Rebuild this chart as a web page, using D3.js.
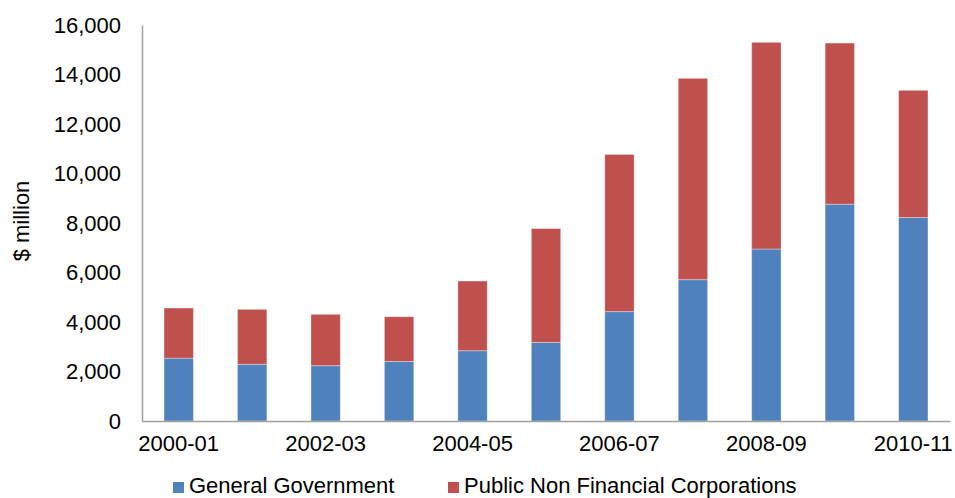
<!DOCTYPE html>
<html>
<head>
<meta charset="utf-8">
<script src="https://cdn.jsdelivr.net/npm/d3@7"></script>
<style>
  body { margin: 0; background: #fff; }
  svg { display: block; font-family: "Liberation Sans", Arial, sans-serif; }
</style>
</head>
<body>
<svg id="chart" width="955" height="498"></svg>
<script>
const categories = ["2000-01","2001-02","2002-03","2003-04","2004-05","2005-06","2006-07","2007-08","2008-09","2009-10","2010-11"];
const generalGovernment = [2540, 2290, 2235, 2405, 2840, 3175, 4420, 5710, 6950, 8760, 8220];
const publicNonFinancial = [2025, 2220, 2075, 1810, 2815, 4600, 6350, 8135, 8350, 6510, 5140];
const yTicks = [0, 2000, 4000, 6000, 8000, 10000, 12000, 14000, 16000];
const xTickLabels = ["2000-01","2002-03","2004-05","2006-07","2008-09","2010-11"];
const seriesNames = ["General Government", "Public Non Financial Corporations"];
const colors = ["#4F81BD", "#C0504D"];

const svg = d3.select("#chart");
const margin = { left: 142, right: 5, top: 25, bottom: 77 };
const W = 955, H = 498;
const x = d3.scaleBand().domain(categories).range([margin.left, W - margin.right]).paddingInner(0.6).paddingOuter(0.3);
const y = d3.scaleLinear().domain([0, 16000]).range([H - margin.bottom, margin.top]);

const rows = categories.map((c, i) => ({ cat: c, gg: generalGovernment[i], pnfc: publicNonFinancial[i] }));
const stack = d3.stack().keys(["gg", "pnfc"])(rows);

svg.append("g").selectAll("g").data(stack).join("g")
  .attr("fill", (d, i) => colors[i])
  .selectAll("rect").data(d => d).join("rect")
  .attr("x", d => x(d.data.cat))
  .attr("width", x.bandwidth())
  .attr("y", d => y(d[1]))
  .attr("height", d => y(d[0]) - y(d[1]))
  .attr("stroke", "rgba(255,255,255,0.35)")
  .attr("stroke-width", 1);

// y axis
const yAxis = d3.axisLeft(y).tickValues(yTicks).tickSize(0).tickPadding(21).tickFormat(d3.format(","));
const gy = svg.append("g").attr("transform", `translate(${margin.left},0)`).call(yAxis);
gy.select(".domain").attr("stroke", "#A0A0A0").attr("stroke-width", 1.5);
gy.selectAll("text").attr("font-size", 22).attr("fill", "#000").attr("font-family", "Liberation Sans, Arial, sans-serif");

// x axis
const xAxis = d3.axisBottom(x).tickValues(xTickLabels).tickSize(0).tickPadding(14);
const gx = svg.append("g").attr("transform", `translate(0,${H - margin.bottom})`).call(xAxis);
gx.select(".domain").attr("stroke", "#A0A0A0").attr("stroke-width", 1.5);
gx.selectAll("text").attr("font-size", 22).attr("fill", "#000").attr("font-family", "Liberation Sans, Arial, sans-serif");

// y title
svg.append("text")
  .attr("transform", `translate(29,221) rotate(-90)`)
  .attr("text-anchor", "middle")
  .attr("font-size", 22)
  .text("$ million");

// legend
const legendX = [173, 448];
seriesNames.forEach((name, i) => {
  svg.append("rect").attr("x", legendX[i]).attr("y", 482).attr("width", 11).attr("height", 11).attr("fill", colors[i]);
  svg.append("text").attr("x", legendX[i] + 16).attr("y", 493).attr("font-size", 22).text(name);
});
</script>
</body>
</html>
